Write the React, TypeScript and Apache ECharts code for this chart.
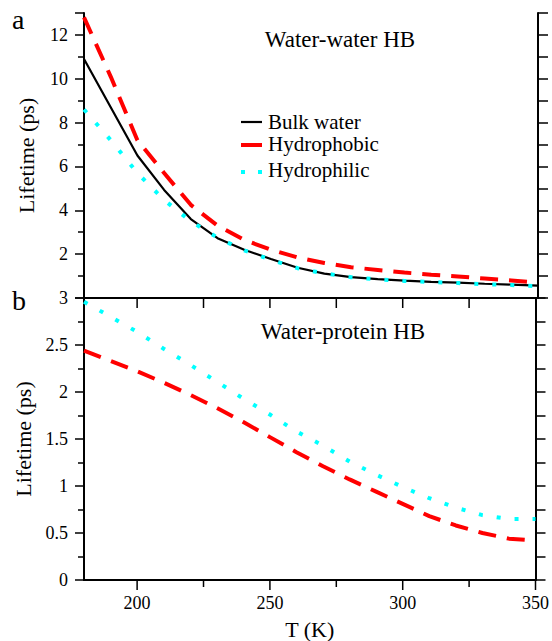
import React, { useEffect, useRef } from "react";
import * as echarts from "echarts";

// Temperature grid (K)
const temps = [180, 190, 200, 210, 220, 230, 240, 250, 260, 270, 280, 290, 300, 310, 320, 330, 340, 350];

// Panel a: water-water HB lifetime (ps)
const wwBulk = [10.9, 8.7, 6.5, 4.93, 3.6, 2.73, 2.2, 1.78, 1.38, 1.11, 0.95, 0.86, 0.79, 0.74, 0.7, 0.65, 0.61, 0.56];
const wwHydrophobic = [12.8, 10.1, 7.2, 5.7, 4.25, 3.3, 2.65, 2.2, 1.85, 1.6, 1.4, 1.28, 1.16, 1.06, 0.98, 0.89, 0.8, 0.7];
const wwHydrophilic = [8.6, 7.2, 5.7, 4.47, 3.5, 2.75, 2.17, 1.74, 1.36, 1.12, 0.95, 0.85, 0.78, 0.73, 0.68, 0.63, 0.59, 0.54];

// Panel b: water-protein HB lifetime (ps)
const wpHydrophobic = [2.44, 2.33, 2.22, 2.1, 1.97, 1.83, 1.68, 1.52, 1.36, 1.21, 1.07, 0.94, 0.81, 0.68, 0.58, 0.5, 0.44, 0.42];
const wpHydrophilic = [2.96, 2.8, 2.64, 2.46, 2.29, 2.11, 1.93, 1.76, 1.58, 1.43, 1.26, 1.12, 0.99, 0.87, 0.77, 0.69, 0.65, 0.65];

// Tick values
const xMajorTicks = [200, 250, 300, 350];
const xMinorTicks = [225, 275, 325];
const xInnerTicks = [200, 225, 250, 275, 300, 325];

const seriesNames = ["Bulk water", "Hydrophobic", "Hydrophilic"];
const panelTitles = ["Water-water HB", "Water-protein HB"];
const panelLetters = ["a", "b"];

const FONT = "Liberation Serif";
const RED = "#ff0000";
const CYAN = "#00ffff";

const pairs = (vals: number[]) => temps.map((t, i) => [t, vals[i]]);

export default function App() {
  const ref = useRef<HTMLDivElement>(null);

  useEffect(() => {
    if (!ref.current) return;
    const chart = echarts.init(ref.current, undefined, { renderer: "svg" });

    const axisLine = { show: true, lineStyle: { color: "#000", width: 2 } };
    const tickStyle = { color: "#000", width: 1.5 };

    const xBase = {
      type: "value" as const,
      min: 180,
      max: 350,
      splitLine: { show: false },
    };

    const txt = (size: number) => ({ fontSize: size, fontFamily: FONT, color: "#000" });
    const gtxt = (size: number) => ({ fontSize: size, fontFamily: FONT, fill: "#000" });

    // tick data for panel b x axes: [value, length, side(0 = bottom outward, 1 = top inward)]
    const tickData = [
      ...xMajorTicks.map((v) => [v, 10, 0]),
      ...xMinorTicks.map((v) => [v, 7, 0]),
      ...xInnerTicks.map((v) => [v, 10, 1]),
    ];

    const option: any = {
      animation: false,
      backgroundColor: "#fff",
      textStyle: { fontFamily: FONT },
      grid: [
        { left: 84, top: 13, width: 454, height: 285 },
        { left: 84, top: 298, width: 454, height: 285 },
      ],
      xAxis: [
        { ...xBase, gridIndex: 0, position: "bottom", axisLine, axisTick: { show: false }, axisLabel: { show: false } },
        { ...xBase, gridIndex: 0, position: "top", axisLine, axisTick: { show: false }, axisLabel: { show: false } },
        {
          ...xBase,
          gridIndex: 1,
          position: "bottom",
          axisLine,
          axisTick: { show: false },
          axisLabel: {
            show: true,
            customValues: xMajorTicks,
            ...txt(18),
            margin: 14,
            formatter: (v: number) => (xMajorTicks.indexOf(v) >= 0 ? String(v) : ""),
          },
          name: "T (K)",
          nameLocation: "middle",
          nameGap: 38,
          nameTextStyle: txt(22),
        },
        { ...xBase, gridIndex: 1, position: "top", axisLine, axisTick: { show: false }, axisLabel: { show: false } },
      ],
      yAxis: [
        {
          type: "value",
          gridIndex: 0,
          position: "left",
          min: 0,
          max: 13,
          interval: 2,
          splitLine: { show: false },
          axisLine,
          axisTick: { show: true, length: 9, lineStyle: tickStyle },
          minorTick: { show: true, splitNumber: 2, length: 6, lineStyle: tickStyle },
          axisLabel: {
            ...txt(18),
            margin: 16,
            formatter: (v: number) => (v === 0 || v > 12 ? "" : String(v)),
          },
          name: "Lifetime (ps)",
          nameLocation: "middle",
          nameGap: 47,
          nameTextStyle: txt(22),
        },
        {
          type: "value",
          gridIndex: 0,
          position: "right",
          min: 0,
          max: 13,
          interval: 2,
          splitLine: { show: false },
          axisLine,
          axisTick: { show: true, length: 10, lineStyle: tickStyle },
          minorTick: { show: true, splitNumber: 2, length: 10, lineStyle: tickStyle },
          axisLabel: { show: false },
        },
        {
          type: "value",
          gridIndex: 1,
          position: "left",
          min: 0,
          max: 3,
          interval: 0.5,
          splitLine: { show: false },
          axisLine,
          axisTick: { show: true, length: 9, lineStyle: tickStyle },
          minorTick: { show: true, splitNumber: 2, length: 6, lineStyle: tickStyle },
          axisLabel: { ...txt(18), margin: 16 },
          name: "Lifetime (ps)",
          nameLocation: "middle",
          nameGap: 47,
          nameTextStyle: txt(22),
        },
        {
          type: "value",
          gridIndex: 1,
          position: "right",
          min: 0,
          max: 3,
          interval: 0.5,
          splitLine: { show: false },
          axisLine,
          axisTick: { show: true, length: 10, lineStyle: tickStyle },
          minorTick: { show: true, splitNumber: 2, length: 10, lineStyle: tickStyle },
          axisLabel: { show: false },
        },
      ],
      series: [
        {
          name: seriesNames[0],
          type: "line",
          xAxisIndex: 0,
          yAxisIndex: 0,
          data: pairs(wwBulk),
          showSymbol: false,
          lineStyle: { color: "#000", width: 2.2 },
        },
        {
          name: seriesNames[1],
          type: "line",
          xAxisIndex: 0,
          yAxisIndex: 0,
          data: pairs(wwHydrophobic),
          showSymbol: false,
          lineStyle: { color: RED, width: 4, type: [18, 11], cap: "butt" },
        },
        {
          name: seriesNames[2],
          type: "line",
          xAxisIndex: 0,
          yAxisIndex: 0,
          data: pairs(wwHydrophilic),
          showSymbol: false,
          lineStyle: { color: CYAN, width: 4, type: [4, 14], cap: "butt" },
        },
        {
          name: seriesNames[1] + " (b)",
          type: "line",
          xAxisIndex: 2,
          yAxisIndex: 2,
          data: pairs(wpHydrophobic),
          showSymbol: false,
          lineStyle: { color: RED, width: 4, type: [18, 11], cap: "butt" },
        },
        {
          name: seriesNames[2] + " (b)",
          type: "line",
          xAxisIndex: 2,
          yAxisIndex: 2,
          data: pairs(wpHydrophilic),
          showSymbol: false,
          lineStyle: { color: CYAN, width: 4, type: [4, 14], cap: "butt" },
        },
        {
          name: "x ticks (b)",
          type: "custom",
          xAxisIndex: 2,
          yAxisIndex: 2,
          clip: false,
          silent: true,
          z: 20,
          data: tickData,
          encode: { x: 0 },
          renderItem: (_params: any, api: any) => {
            const v = api.value(0);
            const len = api.value(1);
            const top = api.value(2) === 1;
            const p = api.coord([v, top ? 3 : 0]);
            return {
              type: "line",
              shape: { x1: p[0], y1: p[1], x2: p[0], y2: p[1] + len },
              style: { stroke: "#000", lineWidth: 1.5 },
            };
          },
        },
      ],
      graphic: [
        { type: "text", x: 12, y: 19, style: { text: panelLetters[0], ...gtxt(28), verticalAlign: "middle" }, z: 10 },
        { type: "text", x: 12, y: 300, style: { text: panelLetters[1], ...gtxt(28), verticalAlign: "middle" }, z: 10 },
        { type: "text", x: 340, y: 39, style: { text: panelTitles[0], ...gtxt(23), align: "center", verticalAlign: "middle" }, z: 10 },
        { type: "text", x: 343, y: 331, style: { text: panelTitles[1], ...gtxt(23), align: "center", verticalAlign: "middle" }, z: 10 },
        { type: "line", shape: { x1: 241, y1: 122, x2: 262, y2: 122 }, style: { stroke: "#000", lineWidth: 2.2 }, z: 10 },
        { type: "line", shape: { x1: 241, y1: 145, x2: 262, y2: 145 }, style: { stroke: RED, lineWidth: 4 }, z: 10 },
        { type: "rect", shape: { x: 241, y: 170, width: 4, height: 4 }, style: { fill: CYAN }, z: 10 },
        { type: "rect", shape: { x: 258, y: 170, width: 4, height: 4 }, style: { fill: CYAN }, z: 10 },
        { type: "text", x: 268, y: 122, style: { text: seriesNames[0], ...gtxt(21), verticalAlign: "middle" }, z: 10 },
        { type: "text", x: 268, y: 144, style: { text: seriesNames[1], ...gtxt(21), verticalAlign: "middle" }, z: 10 },
        { type: "text", x: 268, y: 170, style: { text: seriesNames[2], ...gtxt(21), verticalAlign: "middle" }, z: 10 },
      ],
    };

    chart.setOption(option);
    return () => chart.dispose();
  }, []);

  return (
    <div
      ref={ref}
      style={{ position: "fixed", left: 0, top: 0, width: 552, height: 641, background: "#fff" }}
    />
  );
}
